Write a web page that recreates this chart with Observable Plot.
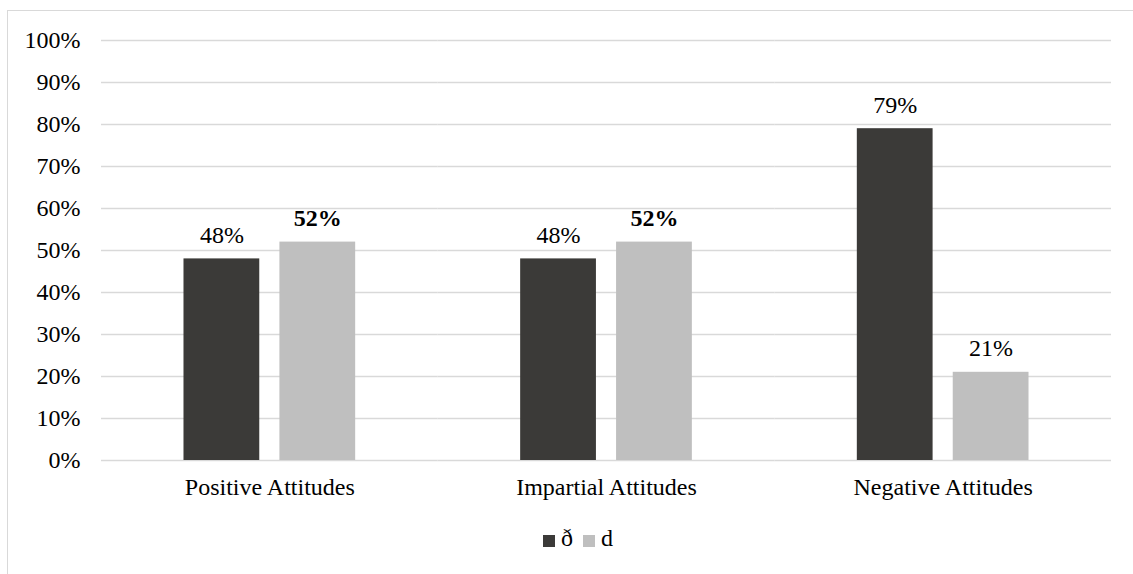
<!DOCTYPE html>
<html>
<head>
<meta charset="utf-8">
<script src="https://cdn.jsdelivr.net/npm/d3@7"></script>
<script src="https://cdn.jsdelivr.net/npm/@observablehq/plot@0.6"></script>
<style>
  html, body { margin: 0; padding: 0; background: #fff; overflow: hidden; }
  body { width: 1133px; height: 574px; position: relative; font-family: "Liberation Serif", "Times New Roman", Times, "DejaVu Serif", serif; }
  #frame { position: absolute; left: 7px; top: 10px; width: 1150px; height: 600px; border: 1px solid #d9d9d9; box-sizing: border-box; }
  #chart { position: absolute; left: 8px; top: 11px; }
  #chart svg text { font-family: "Liberation Serif", "Times New Roman", Times, "DejaVu Serif", serif; }
  #legend { position: absolute; left: 543px; top: 525px; display: flex; align-items: center; font-size: 24px; color: #000; white-space: nowrap; }
  #legend .item { display: flex; align-items: center; margin-right: 10px; }
  #legend .sw { width: 12px; height: 12px; margin-right: 6px; margin-top: 4px; }
</style>
</head>
<body>
<div id="frame"></div>
<div id="chart"></div>
<div id="legend"></div>
<script>
const categories = ["Positive Attitudes", "Impartial Attitudes", "Negative Attitudes"];
const seriesNames = ["ð", "d"];
const seriesFirst = [48, 48, 79];
const seriesSecond = [52, 52, 21];
const yTicks = [0, 10, 20, 30, 40, 50, 60, 70, 80, 90, 100];
const colors = ["#3b3a38", "#bfbfbf"];

const data = [];
categories.forEach((c, i) => {
  data.push({category: c, series: seriesNames[0], value: seriesFirst[i]});
  data.push({category: c, series: seriesNames[1], value: seriesSecond[i]});
});
const isBold = d => d.series === seriesNames[1] && d.value > 50;
const serif = "Liberation Serif, Times New Roman, Times, DejaVu Serif, serif";

const chart = Plot.plot({
  width: 1125,
  height: 510,
  marginLeft: 93,
  marginRight: 22,
  marginTop: 29,
  marginBottom: 61,
  style: {fontFamily: serif, fontSize: "24px", color: "#000", background: "transparent", overflow: "visible"},
  fx: {domain: categories, padding: 0, label: null, round: false},
  x: {domain: seriesNames, paddingInner: 0.21, paddingOuter: 0.86, axis: null, round: false},
  y: {domain: [0, 100], label: null},
  color: {domain: seriesNames, range: colors},
  marks: [
    Plot.gridY(yTicks, {stroke: "#d9d9d9", strokeOpacity: 1, strokeWidth: 1.5}),
    Plot.axisY(yTicks, {tickSize: 0, tickPadding: 21, tickFormat: d => d + "%", label: null, fontSize: 24}),
    Plot.axisFx({anchor: "bottom", tickSize: 0, tickPadding: 17, label: null, fontSize: 24}),
    Plot.barY(data, {fx: "category", x: "series", y: "value", fill: "series"}),
    Plot.text(data.filter(d => !isBold(d)), {fx: "category", x: "series", y: "value", text: d => d.value + "%", lineAnchor: "bottom", dy: -16, fontSize: 24, fill: "#000"}),
    Plot.text(data.filter(isBold), {fx: "category", x: "series", y: "value", text: d => d.value + "%", lineAnchor: "bottom", dy: -16, fontSize: 24, fontWeight: "bold", fill: "#000"})
  ]
});
document.getElementById("chart").appendChild(chart);

const legend = document.getElementById("legend");
seriesNames.forEach((s, i) => {
  const item = document.createElement("div");
  item.className = "item";
  const sw = document.createElement("div");
  sw.className = "sw";
  sw.style.background = colors[i];
  const t = document.createElement("span");
  t.textContent = s;
  item.appendChild(sw);
  item.appendChild(t);
  legend.appendChild(item);
});
</script>
</body>
</html>
